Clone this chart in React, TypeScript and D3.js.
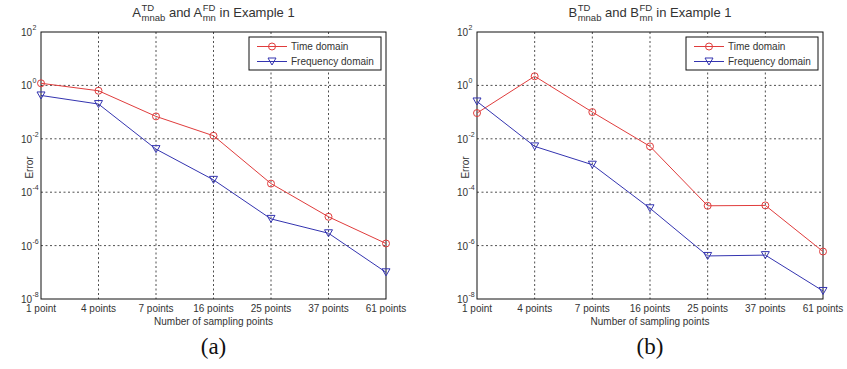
import React, { useEffect, useRef } from 'react';
import * as d3 from 'd3';

// sampling point labels on the x axis
const categories = ['1 point', '4 points', '7 points', '16 points', '25 points', '37 points', '61 points'];

// errors
const aTime = [1.2, 0.63, 0.069, 0.013, 2.1e-4, 1.2e-5, 1.2e-6];
const aFreq = [0.42, 0.2, 0.0041, 2.9e-4, 1.0e-5, 2.9e-6, 1.0e-7];
const bTime = [0.092, 2.2, 0.1, 0.0052, 3.1e-5, 3.2e-5, 6e-7];
const bFreq = [0.25, 0.0052, 1.07e-3, 2.5e-5, 4.1e-7, 4.4e-7, 2.0e-8];

const yExponents = [2, 0, -2, -4, -6, -8];
const seriesNames = ['Time domain', 'Frequency domain'];

const RED = '#e03c3c';
const BLUE = '#3434b0';
const FONT = 'Liberation Sans, Arial, sans-serif';

const triangle = (s, x, y) => {
  s.append('path')
    .attr('d', `M${x - 4},${y - 3.5} L${x + 4},${y - 3.5} L${x},${y + 3.5} Z`)
    .attr('fill', 'none')
    .attr('stroke', BLUE)
    .attr('stroke-width', 1);
};

const circle = (s, x, y) => {
  s.append('circle')
    .attr('cx', x)
    .attr('cy', y)
    .attr('r', 3.5)
    .attr('fill', 'none')
    .attr('stroke', RED)
    .attr('stroke-width', 1);
};

const drawPanel = (svg, opts) => {
  const { left, right, top, bottom, letter, time, freq, caption } = opts;
  const g = svg.append('g');

  const x = d3.scalePoint().domain(categories).range([left, right]);
  const y = d3.scaleLog().domain([1e-8, 1e2]).range([bottom, top]);

  // grid
  g.selectAll('line.vgrid')
    .data(categories.slice(1, -1))
    .join('line')
    .attr('x1', (d) => x(d))
    .attr('x2', (d) => x(d))
    .attr('y1', top)
    .attr('y2', bottom)
    .attr('stroke', '#222')
    .attr('stroke-width', 0.8)
    .attr('stroke-dasharray', '2,2.5');
  g.selectAll('line.hgrid')
    .data(yExponents.slice(1, -1))
    .join('line')
    .attr('x1', left)
    .attr('x2', right)
    .attr('y1', (d) => y(Math.pow(10, d)))
    .attr('y2', (d) => y(Math.pow(10, d)))
    .attr('stroke', '#222')
    .attr('stroke-width', 0.8)
    .attr('stroke-dasharray', '2,2.5');

  // box
  g.append('rect')
    .attr('x', left)
    .attr('y', top)
    .attr('width', right - left)
    .attr('height', bottom - top)
    .attr('fill', 'none')
    .attr('stroke', '#111')
    .attr('stroke-width', 1);

  // y tick labels
  yExponents.forEach((e) => {
    g.append('text')
      .attr('x', left - 9)
      .attr('y', y(Math.pow(10, e)) + 4)
      .attr('text-anchor', 'end')
      .attr('font-family', FONT)
      .attr('font-size', 10)
      .attr('fill', '#333')
      .text('10');
    g.append('text')
      .attr('x', left - 8.5)
      .attr('y', y(Math.pow(10, e)) - 2)
      .attr('font-family', FONT)
      .attr('font-size', 7)
      .attr('fill', '#333')
      .text(String(e));
  });

  // x tick labels
  g.selectAll('text.xt')
    .data(categories)
    .join('text')
    .attr('x', (d) => x(d))
    .attr('y', bottom + 13)
    .attr('text-anchor', 'middle')
    .attr('font-family', FONT)
    .attr('font-size', 10)
    .attr('fill', '#333')
    .text((d) => d);

  g.append('text')
    .attr('x', (left + right) / 2)
    .attr('y', bottom + 26)
    .attr('text-anchor', 'middle')
    .attr('font-family', FONT)
    .attr('font-size', 10)
    .attr('fill', '#333')
    .text('Number of sampling points');

  g.append('text')
    .attr('transform', `translate(${left - 8},${(top + bottom) / 2 + 2}) rotate(-90)`)
    .attr('text-anchor', 'middle')
    .attr('font-family', FONT)
    .attr('font-size', 10)
    .attr('fill', '#333')
    .text('Error');

  // lines
  const line = d3
    .line()
    .x((d, i) => x(categories[i]))
    .y((d) => y(d));

  g.append('path').attr('d', line(time)).attr('fill', 'none').attr('stroke', RED).attr('stroke-width', 1);
  g.append('path').attr('d', line(freq)).attr('fill', 'none').attr('stroke', BLUE).attr('stroke-width', 1);
  time.forEach((v, i) => circle(g, x(categories[i]), y(v)));
  freq.forEach((v, i) => triangle(g, x(categories[i]), y(v)));

  // legend
  const lx = right - 137;
  const ly = top + 5;
  g.append('rect')
    .attr('x', lx)
    .attr('y', ly)
    .attr('width', 132)
    .attr('height', 33)
    .attr('fill', '#fff')
    .attr('stroke', '#111')
    .attr('stroke-width', 1);
  seriesNames.forEach((name, i) => {
    const cy = ly + 9.5 + i * 15;
    g.append('line')
      .attr('x1', lx + 8)
      .attr('x2', lx + 38)
      .attr('y1', cy)
      .attr('y2', cy)
      .attr('stroke', i === 0 ? RED : BLUE)
      .attr('stroke-width', 1);
    if (i === 0) circle(g, lx + 23, cy);
    else triangle(g, lx + 23, cy);
    g.append('text')
      .attr('x', lx + 42)
      .attr('y', cy + 3.5)
      .attr('font-family', FONT)
      .attr('font-size', 10)
      .attr('fill', '#333')
      .text(name);
  });

  // title: L^TD_mnab and L^FD_mn in Example 1
  const title = g.append('text')
    .attr('x', 0)
    .attr('y', 17)
    .attr('font-family', FONT)
    .attr('font-size', 13)
    .attr('fill', '#333');
  const piece = (txt, size, dx, dy) =>
    title.append('tspan').attr('font-size', size).attr('dx', dx).attr('dy', dy).text(txt);
  piece(letter, 13, 0, 0);
  const sup1 = piece('TD', 9.5, 0.5, -6.5);
  const w1 = sup1.node().getComputedTextLength();
  const sub1 = piece('mnab', 9.5, -w1, 10.5);
  const extra1 = Math.max(0, w1 - sub1.node().getComputedTextLength());
  piece(' and ' + letter, 13, extra1, -4);
  const sup2 = piece('FD', 9.5, 0.5, -6.5);
  const w2 = sup2.node().getComputedTextLength();
  const sub2 = piece('mn', 9.5, -w2, 10.5);
  const extra2 = Math.max(0, w2 - sub2.node().getComputedTextLength());
  piece(' in Example 1', 13, extra2, -4);
  const bb = title.node().getBBox();
  title.attr('x', (left + right) / 2 - bb.width / 2);

  // caption
  svg.append('text')
    .attr('x', (left + right) / 2)
    .attr('y', 354)
    .attr('text-anchor', 'middle')
    .attr('font-family', 'Liberation Serif, Times New Roman, serif')
    .attr('font-size', 23)
    .attr('fill', '#111')
    .text(caption);
};

const App = () => {
  const svgRef = useRef(null);

  useEffect(() => {
    const svg = d3.select(svgRef.current);
    svg.selectAll('*').remove();
    drawPanel(svg, {
      left: 41, right: 386, top: 32, bottom: 299,
      letter: 'A', time: aTime, freq: aFreq, caption: '(a)',
    });
    drawPanel(svg, {
      left: 477, right: 823, top: 32, bottom: 299,
      letter: 'B', time: bTime, freq: bFreq, caption: '(b)',
    });
  }, []);

  return (
    <svg
      ref={svgRef}
      width={847}
      height={369}
      style={{ position: 'absolute', left: 0, top: 0, background: '#fff' }}
    />
  );
};

export default App;
